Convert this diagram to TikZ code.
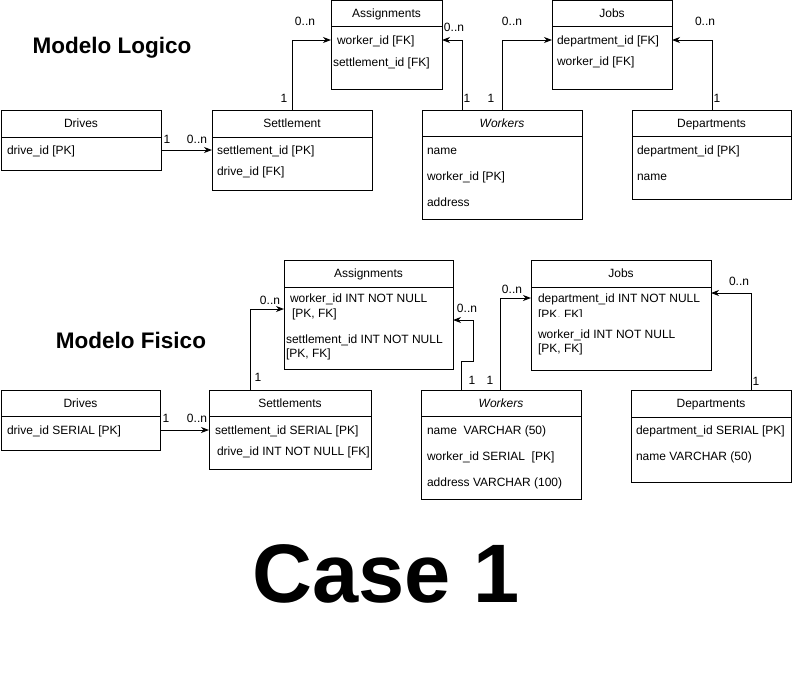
\documentclass[tikz,border=0pt]{standalone}
\usepackage{fontspec}
\setmainfont{Liberation Sans}
\usetikzlibrary{arrows.meta,calc}

\tikzset{
  every node/.style={inner sep=0pt, outer sep=0pt},
  hdr/.style={draw, line width=1pt, anchor=north west,
    text height=8.6pt, text depth=0pt,
    font=\fontsize{12}{14.4}\selectfont},
  tbody/.style={draw, line width=1pt, anchor=north west},
  field/.style={anchor=west, text height=8.6pt, text depth=0pt,
    font=\fontsize{12}{14.4}\selectfont},
  card/.style={text height=8.6pt, text depth=0pt,
    font=\fontsize{12}{14.4}\selectfont},
  rel/.style={line width=1pt, -{Stealth[length=8pt,width=6pt,inset=2.5pt]}},
  title/.style={anchor=base, font=\bfseries\fontsize{22.5}{26}\selectfont},
}

\begin{document}
\begin{tikzpicture}[x=1pt,y=-1pt]
\useasboundingbox (0,0) rectangle (792,681);

% ---------------- logical model ----------------
\node[title] (tlog) at (112,53) {Modelo Logico};

% Assignments
\node[hdr, minimum width=111, minimum height=26] (la) at (331,0.5) {Assignments};
\node[tbody, minimum width=111, minimum height=63] (la-b) at (la.south west) {};
\node[field] (la-r1) at (337,40) {worker\_id [FK]};
\node[field] (la-r2) at (333,62) {settlement\_id [FK]};

% Jobs
\node[hdr, minimum width=120, minimum height=26] (lj) at (552,0.5) {Jobs};
\node[tbody, minimum width=120, minimum height=63] (lj-b) at (lj.south west) {};
\node[field] (lj-r1) at (557,40) {department\_id [FK]};
\node[field] (lj-r2) at (557,61) {worker\_id [FK]};

% Drives
\node[hdr, minimum width=160, minimum height=27] (ld) at (1,110) {Drives};
\node[tbody, minimum width=160, minimum height=33] (ld-b) at (ld.south west) {};
\node[field] (ld-r1) at (7,150) {drive\_id [PK]};

% Settlement
\node[hdr, minimum width=160, minimum height=27] (ls) at (212,110) {Settlement};
\node[tbody, minimum width=160, minimum height=53] (ls-b) at (ls.south west) {};
\node[field] (ls-r1) at (217,150) {settlement\_id [PK]};
\node[field] (ls-r2) at (217,171) {drive\_id [FK]};

% Workers
\node[hdr, minimum width=160, minimum height=26] (lw) at (422,110) {\itshape Workers};
\node[tbody, minimum width=160, minimum height=83] (lw-b) at (lw.south west) {};
\node[field] (lw-r1) at (427,150) {name};
\node[field] (lw-r2) at (427,176) {worker\_id [PK]};
\node[field] (lw-r3) at (427,202) {address};

% Departments
\node[hdr, minimum width=159, minimum height=26] (ldp) at (632,110) {Departments};
\node[tbody, minimum width=159, minimum height=63] (ldp-b) at (ldp.south west) {};
\node[field] (ldp-r1) at (637,150) {department\_id [PK]};
\node[field] (ldp-r2) at (637,176) {name};

% logical relations
\draw[rel] ([xshift=80]ls.north west) |- (la-b.west |- la-r1.west);
\node[card] (c1) at (284,98) {1};
\node[card] (c2) at (305,21) {0..n};

\draw[rel] ([xshift=40]lw.north west) |- (la-b.east |- la-r1.west);
\node[card] (c3) at (454,27) {0..n};
\node[card] (c4) at (467,98) {1};

\draw[rel] ([xshift=80]lw.north west) |- (lj-b.west |- lj-r1.west);
\node[card] (c5) at (512,21) {0..n};
\node[card] (c6) at (491,98) {1};

\draw[rel] ([xshift=80]ldp.north west) |- (lj-b.east |- lj-r1.west);
\node[card] (c7) at (705,21) {0..n};
\node[card] (c8) at (717,98) {1};

\draw[rel] (ld-b.east |- ld-r1.west) -- (ls-b.west |- ld-r1.west);
\node[card] (c9) at (167,139) {1};
\node[card] (c10) at (197,139) {0..n};

% ---------------- physical model ----------------
\node[title] (tfis) at (131,348) {Modelo Fisico};

% Assignments
\node[hdr, minimum width=169, minimum height=27] (pa) at (284,260) {Assignments};
\node[tbody, minimum width=169, minimum height=82] (pa-b) at (pa.south west) {};
\node[field] (pa-r1) at (290,298) {worker\_id INT NOT NULL};
\node[field] (pa-r1b) at (292,313) {[PK, FK]};
\node[field] (pa-r2) at (286,339) {settlement\_id INT NOT NULL};
\node[field] (pa-r2b) at (286,353) {[PK, FK]};

% Jobs
\node[hdr, minimum width=180, minimum height=27] (pj) at (531,260) {Jobs};
\node[tbody, minimum width=180, minimum height=83] (pj-b) at (pj.south west) {};
\node[field] (pj-r1) at (538,298) {department\_id INT NOT NULL};
\node[field] (pj-r1b) at (538,314) {[PK, FK]};
\fill[white] ([xshift=1pt,yshift=-29.5pt]pj-b.north west) rectangle ([xshift=-1pt,yshift=1pt]pj-b.south east);
\node[field] (pj-r2) at (538,334) {worker\_id INT NOT NULL};
\node[field] (pj-r2b) at (538,348) {[PK, FK]};

% Drives
\node[hdr, minimum width=159, minimum height=26] (pd) at (1,390) {Drives};
\node[tbody, minimum width=159, minimum height=34] (pd-b) at (pd.south west) {};
\node[field] (pd-r1) at (7,430) {drive\_id SERIAL [PK]};

% Settlements
\node[hdr, minimum width=162, minimum height=26] (ps) at (209,390) {Settlements};
\node[tbody, minimum width=162, minimum height=53] (ps-b) at (ps.south west) {};
\node[field] (ps-r1) at (215,430) {settlement\_id SERIAL [PK]};
\node[field] (ps-r2) at (217,451) {drive\_id INT NOT NULL [FK]};

% Workers
\node[hdr, minimum width=160, minimum height=26] (pw) at (421,390) {\itshape Workers};
\node[tbody, minimum width=160, minimum height=83] (pw-b) at (pw.south west) {};
\node[field] (pw-r1) at (427,430) {name\ \ VARCHAR (50)};
\node[field] (pw-r2) at (427,456) {worker\_id SERIAL\ \ [PK]};
\node[field] (pw-r3) at (427,482) {address VARCHAR (100)};

% Departments
\node[hdr, minimum width=160, minimum height=27] (pdp) at (631,390) {Departments};
\node[tbody, minimum width=160, minimum height=65] (pdp-b) at (pdp.south west) {};
\node[field] (pdp-r1) at (636,430) {department\_id SERIAL [PK]};
\node[field] (pdp-r2) at (636,456) {name VARCHAR (50)};

% physical relations
\draw[rel] ([xshift=41]ps.north west) |- ([yshift=-22pt]pa-b.north west);
\node[card] (d1) at (270,300) {0..n};
\node[card] (d2) at (258,377) {1};

\draw[rel] ([xshift=40]pw.north west) -- ++(0,-29) -- ++(12,0)
  |- ([yshift=-33pt]pa-b.north east);
\node[card] (d3) at (467,308) {0..n};
\node[card] (d4) at (472,380) {1};

\draw[rel] ([xshift=79]pw.north west) |- ([yshift=-11pt]pj-b.north west);
\node[card] (d5) at (512,289) {0..n};
\node[card] (d6) at (490,380) {1};

\draw[rel] ([xshift=120]pdp.north west) |- ([yshift=-6pt]pj-b.north east);
\node[card] (d7) at (739,281) {0..n};
\node[card] (d8) at (756,381) {1};

\draw[rel] (pd-b.east |- pd-r1.west) -- (ps-b.west |- pd-r1.west);
\node[card] (d9) at (166,418) {1};
\node[card] (d10) at (197,418) {0..n};

% caption
\node[anchor=base, font=\bfseries\fontsize{83}{88}\selectfont] (caption) at (386,602) {Case 1};

\end{tikzpicture}
\end{document}
